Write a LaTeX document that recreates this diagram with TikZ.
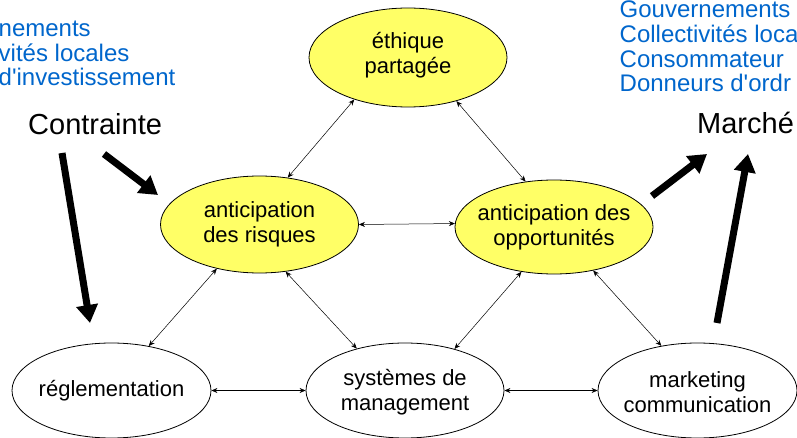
\documentclass[tikz,border=0pt]{standalone}
\usepackage{fontspec}
\setmainfont{Liberation Sans}[Ligatures=TeXOff]
\usetikzlibrary{arrows.meta, shapes.geometric, positioning}
\definecolor{yel}{RGB}{255, 255, 102}
\definecolor{blu}{RGB}{0, 102, 204}
\tikzset{
    ovalnode/.style = {draw, ellipse, inner sep=0em, node distance=0em, line width=0.8pt,
      minimum width=198pt, minimum height=95pt},
    yellownode/.style = {ovalnode, fill=yel},
    textnode/.style = {draw=none, fill=none, rectangle, inner sep=0em, node distance=0em,
      align=center, font=\fontsize{22}{25}\selectfont},
    bigtextnode/.style = {textnode, font=\fontsize{29}{34}\selectfont},
    bluenode/.style = {textnode, align=left, text=blu, font=\fontsize{24}{24.8}\selectfont},
    link/.style = {{Stealth[length=6pt,width=5pt]}-{Stealth[length=6pt,width=5pt]}, line width=0.5pt},
    push/.style = {-{Triangle[length=18pt,width=21pt]}, line width=7pt}
}

\begin{document}
\begin{tikzpicture}[x=1pt, y=1pt]
\useasboundingbox (0,0) rectangle (797,-438);
\clip (0,0) rectangle (797,-438);

\node [yellownode, name=ethique, minimum height=99pt,
    label={[textnode, yshift=2pt]center:{éthique\\partagée}}] at (408,-57.5) {};
\node [yellownode, name=risques, below of=ethique, xshift=-148.5pt, yshift=-167pt, minimum height=97pt,
    label={[textnode]center:{anticipation\\des risques}}] {};
\node [yellownode, name=opport, below of=ethique, xshift=146pt, yshift=-169.5pt, minimum height=94pt,
    label={[textnode]center:{anticipation des\\opportunités}}] {};

\node [ovalnode, name=reglement, below of=risques, xshift=-148pt, yshift=-166pt, minimum width=199pt,
    label={[textnode]center:réglementation}] {};
\node [ovalnode, name=systemes, right of=reglement, xshift=293.5pt,
    label={[textnode, yshift=-1.5pt]center:{systèmes de\\management}}] {};
\node [ovalnode, name=marketing, right of=systemes, xshift=292.5pt, minimum width=199pt,
    label={[textnode, yshift=-1.5pt]center:{marketing\\communication}}] {};

% triangle du haut
\draw (ethique.218) edge[link] (risques.59);
\draw (ethique.318) edge[link] (opport.122);
\draw (risques.east) edge[link] (opport.178);

% vers le bas
\draw (risques.226) edge[link] (reglement.50);
\draw (risques.299) edge[link] (systemes.139);
\draw (opport.234) edge[link] (systemes.40);
\draw (opport.312) edge[link] (marketing.129);
\draw (reglement.east) edge[link] (systemes.west);
\draw (systemes.east) edge[link] (marketing.west);

\node [bigtextnode, name=contrainte, anchor=base west] at (28,-135) {Contrainte};
\node [bigtextnode, name=marche, anchor=base west] at (697,-134) {Marché};
\node [bluenode, name=acteursg, anchor=base west] at (-1.5,-86) {nements\\vités locales\\d'investissement};
\node [bluenode, name=acteursd, anchor=base west] at (619.5,-92)
    {Gouvernements\\Collectivités loca\\Consommateur\\Donneurs d'ordr};

% grosses fleches
\coordinate (cA) at (62,-153);
\coordinate (gA) at (90,-323);
\coordinate (cB) at (104,-154);
\coordinate (rB) at (158,-195);
\coordinate (oC) at (652,-196);
\coordinate (mC) at (707,-154);
\coordinate (kD) at (717,-323);
\coordinate (mD) at (748,-154);
\draw (cA) edge[push] (gA);
\draw (cB) edge[push] (rB);
\draw (oC) edge[push] (mC);
\draw (kD) edge[push] (mD);
\end{tikzpicture}
\end{document}
